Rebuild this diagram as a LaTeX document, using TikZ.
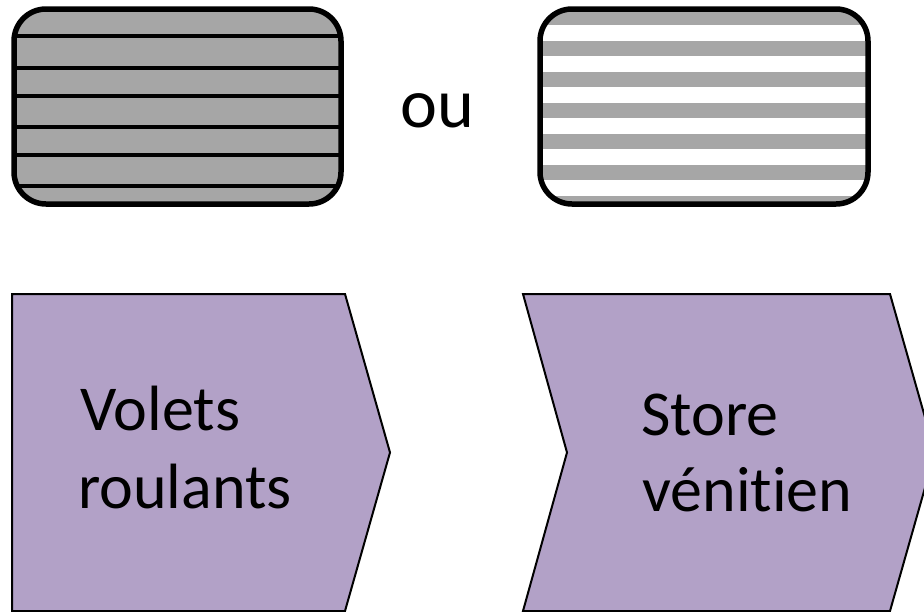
\documentclass[tikz,border=0pt]{standalone}
\usepackage{fontspec}
\setmainfont[Ligatures={NoCommon}]{Carlito}
\definecolor{slat}{HTML}{A6A6A6}
\definecolor{lav}{HTML}{B2A1C7}
\begin{document}
\begin{tikzpicture}[x=1pt,y=-1pt,
  boxframe/.style={draw=black,line width=5.5pt,rounded corners=32pt},
  chev/.style={draw=black,fill=lav,line width=2pt,line join=miter},
  lbl/.style={anchor=base west,inner sep=0pt,font=\fontsize{64}{77}\selectfont},
  oulbl/.style={anchor=base west,inner sep=0pt,font=\fontsize{70}{84}\selectfont}]
\useasboundingbox (0,0) rectangle (924,611);
\clip (0,0) rectangle (924,611);
% left box: rolling shutter
\fill[slat,rounded corners=32pt] (14,9) rectangle (341,204);
\begin{scope}
  \clip[rounded corners=32pt] (14,9) rectangle (341,204);
  \foreach \y in {36,68,96,127,155,186}
    \draw[line width=4.5pt] (10,\y) -- (345,\y);
\end{scope}
\draw[boxframe] (14,9) rectangle (341,204);
% right box: venetian blind
\fill[white,rounded corners=32pt] (540,9) rectangle (868,204);
\begin{scope}
  \clip[rounded corners=32pt] (540,9) rectangle (868,204);
  \foreach \k in {0,...,6}
    \fill[slat] (536,{10+31*\k}) rectangle (872,{25+31*\k});
\end{scope}
\draw[boxframe] (540,9) rectangle (868,204);
% "ou"
\node[oulbl] (ou) at (400,127) {ou};
% chevrons
\draw[chev] (12,294) -- (345,294) -- (390,452.5) -- (345,611) -- (12,611) -- cycle;
\draw[chev] (523,294) -- (890,294) -- (935,452.5) -- (890,611) -- (523,611) -- (567,452.5) -- cycle;
\node[lbl] (v1) at (80,430) {Volets};
\node[lbl] (v2) at (78,508) {roulants};
\node[lbl] (s1) at (641,435) {Store};
\node[lbl] (s2) at (642,511) {vénitien};
\end{tikzpicture}
\end{document}
